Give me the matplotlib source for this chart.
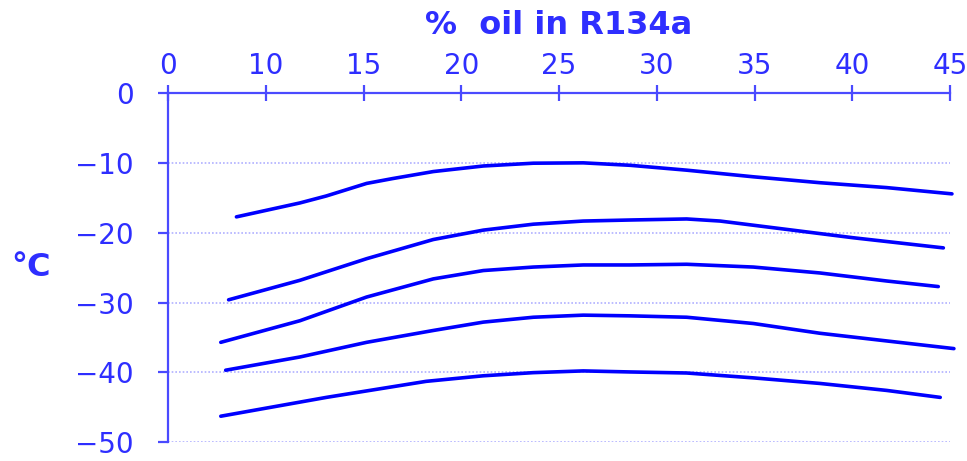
import matplotlib
matplotlib.use("Agg")
import matplotlib.pyplot as plt

# ---- data ----
x_ticks = [5, 10, 15, 20, 25, 30, 35, 40, 45]
x_tick_labels = ["0", "10", "15", "20", "25", "30", "35", "40", "45"]
y_ticks = [0, -10, -20, -30, -40, -50]

c1_x = [8.5, 11.75, 13.1, 15.16, 16.5, 18.57, 21.13, 23.69, 26.24, 28.63, 31.53, 34.94, 38.35, 41.76, 45.1]
c1_y = [-17.7, -15.7, -14.7, -12.9, -12.2, -11.2, -10.4, -10.0, -9.95, -10.3, -11.0, -11.95, -12.8, -13.5, -14.4]

c2_x = [8.1, 11.75, 15.16, 18.57, 21.13, 23.69, 26.24, 28.63, 31.53, 33.24, 36.65, 40.06, 44.66]
c2_y = [-29.6, -26.8, -23.7, -20.95, -19.6, -18.75, -18.3, -18.15, -18.0, -18.3, -19.5, -20.7, -22.15]

c3_x = [7.7, 11.75, 15.16, 18.57, 21.13, 23.69, 26.24, 28.63, 31.53, 34.94, 38.35, 41.76, 44.4]
c3_y = [-35.7, -32.6, -29.2, -26.6, -25.4, -24.9, -24.6, -24.6, -24.5, -24.9, -25.75, -26.9, -27.7]

c4_x = [7.95, 11.75, 15.16, 18.57, 21.13, 23.69, 26.24, 28.63, 31.53, 34.94, 38.35, 41.76, 45.2]
c4_y = [-39.7, -37.8, -35.7, -34.0, -32.8, -32.1, -31.8, -31.9, -32.1, -33.0, -34.4, -35.5, -36.6]

c5_x = [7.7, 13.1, 18.2, 21.13, 23.69, 26.24, 28.63, 31.53, 34.94, 38.35, 41.76, 44.5]
c5_y = [-46.3, -43.6, -41.3, -40.5, -40.05, -39.8, -39.95, -40.1, -40.8, -41.6, -42.6, -43.6]

curves = [(c1_x, c1_y), (c2_x, c2_y), (c3_x, c3_y), (c4_x, c4_y), (c5_x, c5_y)]

# ---- styling ----
line_col = "#0000ff"
axis_col = "#4a4aff"
text_col = "#2e2eff"
grid_col = "#b0b0ff"
plt.rcParams["font.family"] = ["DejaVu Sans"]

fig = plt.figure(figsize=(9.67, 4.61), dpi=100)
ax = fig.add_axes([168 / 967, 1 - 442 / 461, (950 - 168) / 967, (442 - 93.5) / 461])

for xs, ys in curves:
    ax.plot(xs, ys, color=line_col, lw=2.6, solid_capstyle="round",
            solid_joinstyle="round", clip_on=False)

ax.set_xlim(5, 45)
ax.set_ylim(-50, 0)

ax.xaxis.tick_top()
ax.xaxis.set_label_position("top")
ax.set_xticks(x_ticks)
ax.set_xticklabels(x_tick_labels)
ax.set_yticks(y_ticks)

ax.tick_params(axis="x", direction="inout", length=11, width=1.6, color=axis_col,
               labelcolor=text_col, labelsize=20, pad=4)
ax.tick_params(axis="y", direction="out", length=7.5, width=1.6, color=axis_col,
               labelcolor=text_col, labelsize=20, pad=17)

for s in ["right", "bottom"]:
    ax.spines[s].set_visible(False)
for s in ["top", "left"]:
    ax.spines[s].set_color(axis_col)
    ax.spines[s].set_linewidth(1.6)

for yv in y_ticks[1:]:
    ax.axhline(yv, color=grid_col, lw=1.2, ls=(0, (1, 1.2)), zorder=0)

ax.set_xlabel("%  oil in R134a", color=text_col, fontsize=23, fontweight="bold", labelpad=13)
fig.text(31 / 967, 1 - 268 / 461, "°C", color=text_col, fontsize=23, fontweight="bold",
         ha="center", va="center")

fig.savefig("out.png", dpi=100)
